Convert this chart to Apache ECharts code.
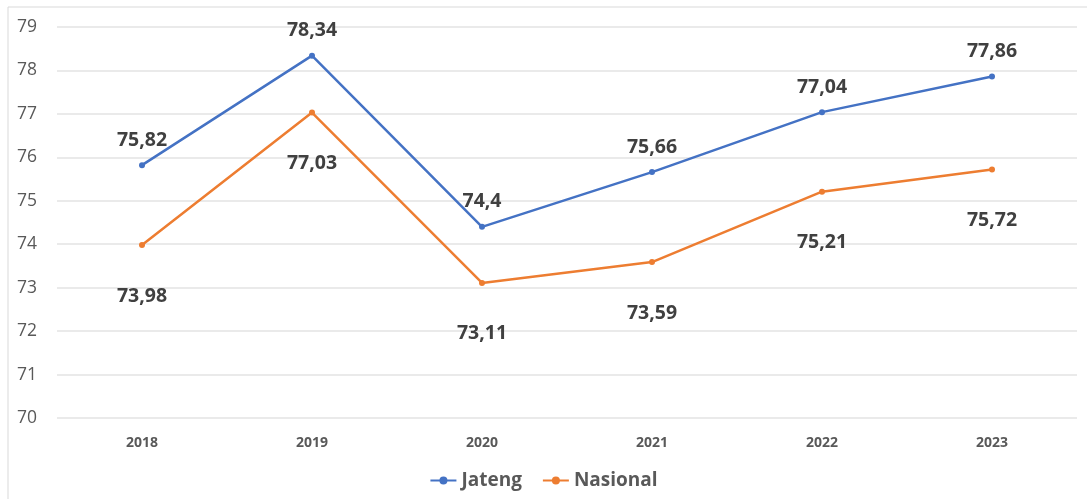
<!DOCTYPE html>
<html><head><meta charset="utf-8">
<script src="https://cdn.jsdelivr.net/npm/echarts@6/dist/echarts.min.js"></script>
<style>html,body{margin:0;padding:0;background:#fff}#c{width:1087px;height:499px}</style>
</head><body><div id="c"></div>
<script>
const categories = ['2018','2019','2020','2021','2022','2023'];
const jateng = [75.82, 78.34, 74.4, 75.66, 77.04, 77.86];
const nasional = [73.98, 77.03, 73.11, 73.59, 75.21, 75.72];
const yMin = 70, yMax = 79, yStep = 1;

const fmt = p => String(p.value).replace('.', ',');
const chart = echarts.init(document.getElementById('c'));
const labelStyle = {show:true, formatter:fmt, fontFamily:'Open Sans', fontWeight:'bold', fontSize:19.5, color:'#404040'};
chart.setOption({
  animation:false,
  graphic:[{type:'rect', shape:{x:8,y:7,width:1100,height:520}, style:{fill:null, stroke:'#d9d9d9', lineWidth:1}, silent:true, z:-1}],
  grid:{left:57, right:10, top:27, bottom:81},
  xAxis:{type:'category', data:categories, boundaryGap:true,
    axisLine:{show:false}, axisTick:{show:false},
    axisLabel:{fontFamily:'Open Sans', fontWeight:'bold', fontSize:14, color:'#595959', margin:18}},
  yAxis:{type:'value', min:yMin, max:yMax, interval:yStep,
    axisLine:{show:false}, axisTick:{show:false},
    splitLine:{lineStyle:{color:'#e3e3e3', width:1.5}},
    axisLabel:{fontFamily:'Open Sans', fontSize:17.5, color:'#595959', margin:20}},
  legend:{bottom:4, left:'center', itemWidth:26, itemHeight:10, itemGap:20,
    textStyle:{fontFamily:'Open Sans', fontWeight:'bold', fontSize:19, color:'#595959'},
    data:['Jateng','Nasional']},
  series:[
    {name:'Jateng', type:'line', data:jateng, color:'#4472C4', symbol:'circle', symbolSize:6,
      lineStyle:{width:2.5}, label:Object.assign({position:'top', distance:12}, labelStyle)},
    {name:'Nasional', type:'line', data:nasional, color:'#ED7D31', symbol:'circle', symbolSize:6,
      lineStyle:{width:2.5}, label:Object.assign({position:'bottom', distance:38}, labelStyle)}
  ]
});
</script></body></html>
